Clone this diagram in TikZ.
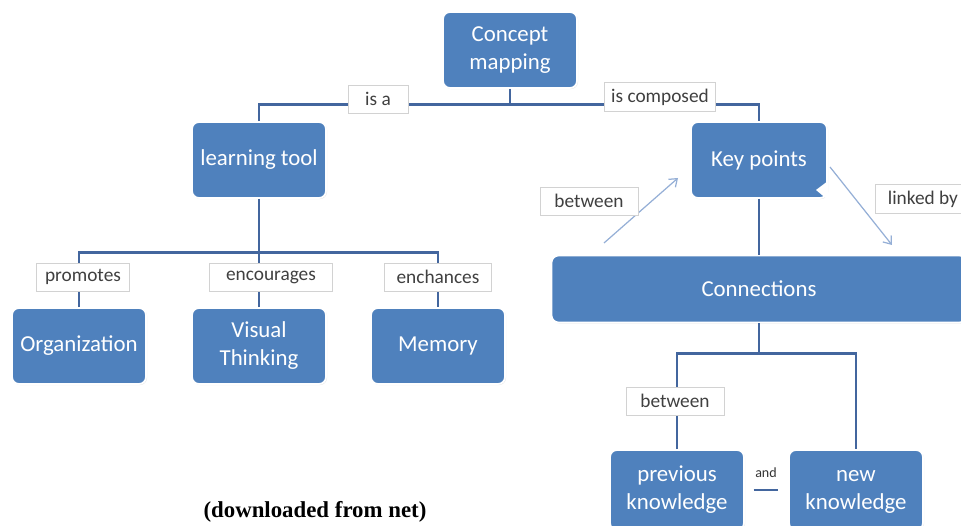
\documentclass[tikz,border=0pt]{standalone}
\usepackage{fontspec}
\setmainfont{Carlito}
\newfontfamily\capfont{Liberation Serif}
\usetikzlibrary{arrows.meta,shadows}

\definecolor{boxblue}{HTML}{4F81BD}
\definecolor{lineblue}{HTML}{43669E}
\definecolor{arrblue}{HTML}{95AFD6}
\definecolor{lblgray}{HTML}{D2D2D2}

\tikzset{
  box/.style={fill=boxblue, draw=white, line width=1pt, rounded corners=4pt,
    text=white, align=center, font=\fontsize{13}{15.5}\selectfont,
    minimum width=2.68cm, minimum height=1.52cm, inner sep=2pt,
    drop shadow={opacity=0.18, shadow xshift=0.6pt, shadow yshift=-0.6pt}},
  lbl/.style={fill=white, draw=lblgray, line width=0.5pt, text=black!75,
    font=\fontsize{11}{13}\selectfont, inner xsep=4pt, minimum height=0.56cm},
  link/.style={draw=lineblue, line width=1.7pt},
  arr/.style={draw=arrblue, line width=0.7pt, -{Straight Barb[length=4pt,width=6pt]}}
}

\begin{document}
\begin{tikzpicture}[x=0.02cm, y=-0.02cm]
    \useasboundingbox (0,0) rectangle (961,526);

    \node[box] (cm) at (510,50) {\strut Concept\\\strut mapping};
    \node[box] (lt) at (259,160) {learning tool};
    \node[box, minimum width=2.72cm] (kp) at (759,160) {Key points};
    \node[box] (org) at (79,346) {Organization};
    \node[box] (vt) at (259,346) {\strut Visual\\\strut Thinking};
    \node[box] (mem) at (438,346) {Memory};
    \node[box, minimum width=8.3cm, minimum height=1.34cm] (con) at (759,289) {Connections};
    \node[box, minimum height=1.6cm] (pk) at (677,490) {\strut previous\\\strut knowledge};
    \node[box, minimum height=1.6cm] (nk) at (856,490) {\strut new\\\strut knowledge};

    \fill[white] (828,181) -- (816,190) -- (828,200) -- cycle;

    \draw[link] (cm.south) -- ++(0,16) coordinate (j1);
    \draw[link] (lt.north) |- (j1) -| (kp.north);
    \draw[link] (lt.south) -- ++(0,54) coordinate (j2);
    \draw[link] (org.north) |- (j2) -| (mem.north);
    \draw[link] (vt.north) -- (j2);
    \draw[link] (kp.south) -- (con.north);
    \draw[link] (con.south) -- ++(0,30) coordinate (j3);
    \draw[link] (pk.north) |- (j3) -| (nk.north);
    \draw[link, line width=1.3pt, shorten <=5pt, shorten >=6pt] (pk) -- (nk);

    \coordinate (b1) at (604,243);
    \coordinate (b2) at (678,178);
    \coordinate (l1) at (830,167);
    \coordinate (l2) at (892,245);
    \draw[arr] (b1) -- (b2);
    \draw[arr] (l1) -- (l2);

    \node[lbl, minimum width=1.2cm] (isa) at (378,99) {is a};
    \node[lbl, minimum width=2.22cm] (isc) at (660,97) {is composed};
    \node[lbl, minimum width=1.86cm] (pro) at (83,277) {promotes};
    \node[lbl, minimum width=2.46cm] (enc) at (271,277) {encourages};
    \node[lbl, minimum width=2.14cm] (enh) at (438,277) {enchances};
    \node[lbl, minimum width=1.96cm] (btw) at (589,201) {between};
    \node[lbl, minimum width=1.9cm, anchor=west] (lnk) at (875,199) {linked by};
    \node[lbl, minimum width=1.96cm] (btw2) at (675,401) {between};
    \node[font=\fontsize{8}{9}\selectfont, text=black!80] (and) at (766,473) {and};

    \node[font=\capfont\bfseries\fontsize{13}{15}\selectfont, anchor=base] (src) at (315,518) {(downloaded from net)};
\end{tikzpicture}
\end{document}
